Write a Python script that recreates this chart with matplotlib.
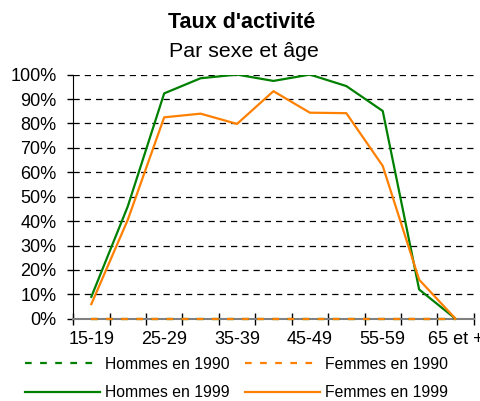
import matplotlib
matplotlib.use('Agg')
import matplotlib.pyplot as plt
from matplotlib.ticker import FuncFormatter

# Données (taux d'activité, en %)
groupes_age = ['15-19', '20-24', '25-29', '30-34', '35-39', '40-44',
               '45-49', '50-54', '55-59', '60-64', '65 et +']
hommes_1990 = [0, 0, 0, 0, 0, 0, 0, 0, 0, 0, 0]
femmes_1990 = [0, 0, 0, 0, 0, 0, 0, 0, 0, 0, 0]
hommes_1999 = [9, 46, 92.3, 98.5, 100, 97.4, 100, 95.3, 85.1, 12, 0]
femmes_1999 = [6, 40.5, 82.5, 84, 79.8, 93.2, 84.4, 84.2, 62.6, 16, 0]

VERT = '#008000'
ORANGE = '#ff8000'

plt.rcParams['font.family'] = ['Liberation Sans', 'DejaVu Sans']

fig = plt.figure(figsize=(4.81, 4.01), dpi=100)
ax = fig.add_axes([0.152, 0.205, 0.833, 0.609])

x = list(range(len(groupes_age)))

# Séries 1990 (pointillés) puis 1999 (traits pleins)
h90, = ax.plot(x, hommes_1990, color=VERT, lw=1.6, dashes=(3, 3.8),
               label='Hommes en 1990', zorder=3, clip_on=False)
f90, = ax.plot(x, femmes_1990, color=ORANGE, lw=1.6, dashes=(3, 3.8),
               label='Femmes en 1990', zorder=3, clip_on=False)
h99, = ax.plot(x, hommes_1999, color=VERT, lw=1.6, label='Hommes en 1999', zorder=4)
f99, = ax.plot(x, femmes_1999, color=ORANGE, lw=1.6, label='Femmes en 1999', zorder=4)

ax.set_xlim(-0.5, len(groupes_age) - 0.5)
ax.set_ylim(0, 100)

# Axe Y
ax.set_yticks(range(0, 101, 10))
ax.yaxis.set_major_formatter(FuncFormatter(lambda v, p: f'{int(v)}%'))
ax.tick_params(axis='y', direction='out', length=4, width=1, pad=8, labelsize=13, colors='black')
ax.yaxis.grid(True, color='black', lw=0.9, dashes=(5, 4))
ax.set_axisbelow(True)

# Axe X : traits aux limites des catégories, libellés une fois sur deux
ax.set_xticks([i - 0.5 for i in range(len(groupes_age) + 1)])
ax.set_xticklabels([])
ax.tick_params(axis='x', which='major', direction='inout', length=9, width=1, color='black')
ax.set_xticks(x[::2], minor=True)
ax.set_xticklabels(groupes_age[::2], minor=True)
ax.tick_params(axis='x', which='minor', length=0, pad=9, labelsize=13)

for s in ['top', 'right']:
    ax.spines[s].set_visible(False)
ax.spines['left'].set_color('black')
ax.spines['bottom'].set_color('#808080')
ax.spines['bottom'].set_linewidth(1.5)

# Titres
fig.text(0.502, 0.93, "Taux d'activité", ha='center', va='baseline',
         fontsize=15.5, fontweight='bold')
fig.text(0.507, 0.858, 'Par sexe et âge', ha='center', va='baseline', fontsize=15.4)

# Légende (remplie par colonnes)
fig.legend(handles=[h90, h99, f90, f99], loc='lower left', bbox_to_anchor=(0.045, -0.006),
           ncol=2, frameon=False, fontsize=11.3, handlelength=4.8, handletextpad=0.32,
           columnspacing=0.95, labelspacing=0.85, borderaxespad=0, borderpad=0.2)

plt.savefig('out.png', dpi=100)
